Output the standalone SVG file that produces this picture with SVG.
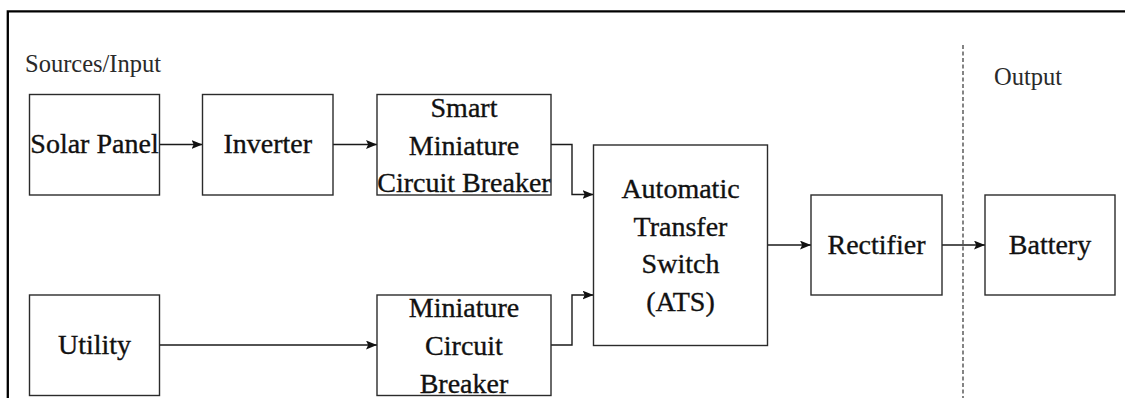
<svg xmlns="http://www.w3.org/2000/svg" width="1125" height="398" viewBox="0 0 1125 398">
  <style>
    .box { fill: #ffffff; stroke: #2b2b2b; stroke-width: 1.4; }
    .lbl { font-size: 28px; fill: #111111; stroke: #111111; stroke-width: 0.35; text-anchor: middle; }
    .sec { font-size: 24.5px; fill: #2a2a2a; }
    .conn { fill: none; stroke: #1a1a1a; stroke-width: 1.4; }
  </style>
  <defs>
    <marker id="arrow" viewBox="0 0 10 8" markerWidth="11" markerHeight="9" refX="10" refY="4" orient="auto" markerUnits="userSpaceOnUse">
      <path d="M0,0 L10,4 L0,8 L2,4 Z" fill="#111111"/>
    </marker>
  </defs>
  <rect x="0" y="0" width="1125" height="398" fill="#ffffff"/>

  <!-- frame -->
  <path d="M7.8 398 V11.3 H1125" fill="none" stroke="#000000" stroke-width="2.3"/>

  <!-- divider -->
  <line x1="963" y1="45" x2="963" y2="398" stroke="#333333" stroke-width="1.2" stroke-dasharray="4 2.5"/>

  <g font-family="Liberation Serif, serif">
  <!-- section labels -->
  <text class="sec" x="25" y="72">Sources/Input</text>
  <text class="sec" x="994" y="85">Output</text>

  <!-- connectors -->
  <g id="connectors">
    <path class="conn" d="M159.5 144.5 H202.5" marker-end="url(#arrow)"/>
    <path class="conn" d="M333 144.5 H377" marker-end="url(#arrow)"/>
    <path class="conn" d="M551 144.5 H572 V194.5 H593.5" marker-end="url(#arrow)"/>
    <path class="conn" d="M159.5 345 H377" marker-end="url(#arrow)"/>
    <path class="conn" d="M551 345 H572 V295 H593.5" marker-end="url(#arrow)"/>
    <path class="conn" d="M767.5 245 H811" marker-end="url(#arrow)"/>
    <path class="conn" d="M942 245 H985" marker-end="url(#arrow)"/>
  </g>

  <g id="solar-panel">
    <rect class="box" x="29.5" y="94.5" width="130" height="100.5"/>
    <text class="lbl" x="94.5" y="153">Solar Panel</text>
  </g>
  <g id="inverter">
    <rect class="box" x="202.5" y="94.5" width="130.5" height="100.5"/>
    <text class="lbl" x="267.75" y="153">Inverter</text>
  </g>
  <g id="smart-mcb">
    <rect class="box" x="377" y="94.5" width="174" height="100.5"/>
    <text class="lbl" x="464" y="117">Smart</text>
    <text class="lbl" x="464" y="154.5">Miniature</text>
    <text class="lbl" x="464" y="192">Circuit Breaker</text>
  </g>
  <g id="ats">
    <rect class="box" x="593.5" y="145" width="174" height="200.5"/>
    <text class="lbl" x="680.5" y="198">Automatic</text>
    <text class="lbl" x="680.5" y="235.5">Transfer</text>
    <text class="lbl" x="680.5" y="273">Switch</text>
    <text class="lbl" x="680.5" y="310.5">(ATS)</text>
  </g>
  <g id="rectifier">
    <rect class="box" x="811" y="195" width="131" height="100"/>
    <text class="lbl" x="876.5" y="254">Rectifier</text>
  </g>
  <g id="battery">
    <rect class="box" x="985" y="195" width="130" height="100"/>
    <text class="lbl" x="1050" y="254">Battery</text>
  </g>
  <g id="utility">
    <rect class="box" x="29.5" y="295" width="130" height="100.5"/>
    <text class="lbl" x="94.5" y="354">Utility</text>
  </g>
  <g id="mcb">
    <rect class="box" x="377" y="295" width="174" height="100.5"/>
    <text class="lbl" x="464" y="317">Miniature</text>
    <text class="lbl" x="464" y="355">Circuit</text>
    <text class="lbl" x="464" y="392.5">Breaker</text>
  </g>
  </g>
</svg>
